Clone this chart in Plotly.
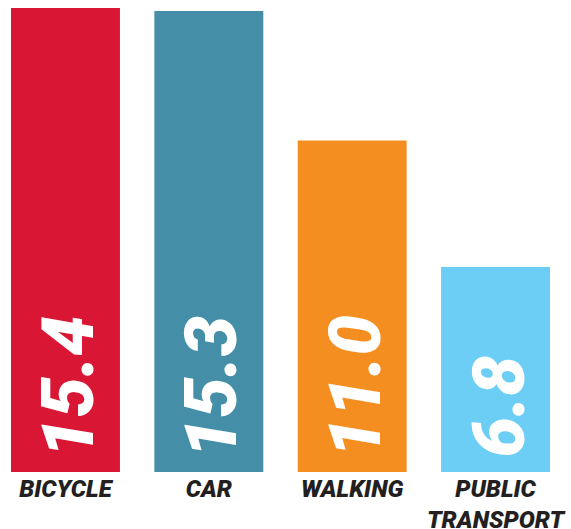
import plotly.graph_objects as go

categories = ["BICYCLE", "CAR", "WALKING", "PUBLIC<br>TRANSPORT"]
values = [15.4, 15.3, 11.0, 6.8]
colors = ["#D91734", "#448FA7", "#F58E20", "#6CCEF4"]

fig = go.Figure()
fig.add_trace(go.Bar(
    x=categories, y=values,
    marker=dict(color=colors, line=dict(width=0)),
    width=0.76,
    hoverinfo="skip",
))

for c, v in zip(categories, values):
    fig.add_annotation(
        x=c, y=0, xref="x", yref="y",
        text=f"{v:.1f}", showarrow=False,
        textangle=-90, yanchor="bottom", xanchor="center",
        yshift=12, xshift=3,
        font=dict(family="Roboto", size=72, color="white", weight=900, style="italic"),
    )

fig.update_layout(
    width=571, height=529,
    margin=dict(l=11, r=21, t=0, b=57),
    paper_bgcolor="white", plot_bgcolor="white",
    showlegend=False,
    bargap=0.24,
    xaxis=dict(range=[-0.38, 3.38], showgrid=False, zeroline=False, showline=False,
               ticks="", tickangle=0, automargin=False,
               tickfont=dict(family="Roboto", size=24, color="#231F20", weight=900, style="italic")),
    yaxis=dict(range=[0, 15.665], visible=False),
)

fig.write_html("out.html", config={"displayModeBar": False, "staticPlot": True},
               post_script="document.body.style.margin='0';document.body.style.overflow='hidden';")
